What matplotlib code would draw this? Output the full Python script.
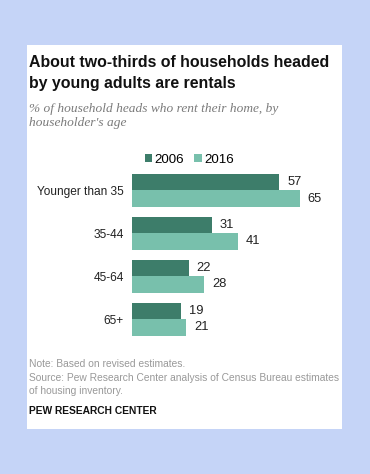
import numpy as np
import matplotlib.pyplot as plt
from matplotlib.patches import Rectangle

# data
categories = ['Younger than 35', '35-44', '45-64', '65+']
vals_2006 = [57, 31, 22, 19]
vals_2016 = [65, 41, 28, 21]
years = ['2006', '2016']

W, H = 370, 474
fig = plt.figure(figsize=(W / 100, H / 100), dpi=100)
fig.patch.set_facecolor('#c5d4f7')

def px(x, y):
    # pixel (from top-left) to figure fraction
    return x / W, 1 - y / H

# white panel
fig.patches.append(Rectangle((27 / W, 1 - 429 / H), (342 - 27) / W, (429 - 45) / H,
                             transform=fig.transFigure, facecolor='white',
                             edgecolor='none', zorder=-1))

dark = '#3d7d6a'
light = '#78c0ac'

# title + subtitle
fig.text(*px(29, 73), 'About two-thirds of households headed\nby young adults are rentals',
         fontsize=11.4, fontweight='bold', family='Liberation Sans', color='#111111',
         va='center', ha='left', linespacing=1.5)
fig.text(*px(29, 116), "% of household heads who rent their home, by\nhouseholder's age",
         fontsize=9.6, style='italic', family='Liberation Serif', color='#7a7a7a',
         va='center', ha='left', linespacing=1.3)

# bars
ax_l, ax_r = 132, 332
ax_t, ax_b = 174.3, 335.7
ax = fig.add_axes([ax_l / W, 1 - ax_b / H, (ax_r - ax_l) / W, (ax_b - ax_t) / H])
ax.set_zorder(2)
ax.set_facecolor('none')
bh = 16.5 / 43
y = np.arange(len(categories))
ax.barh(y - bh / 2, vals_2006, height=bh, color=dark, label=years[0])
ax.barh(y + bh / 2, vals_2016, height=bh, color=light, label=years[1])
ax.set_xlim(0, 200 / 2.585)
ax.set_ylim(3 + 16.7 / 43, -16 / 43)
for i in range(len(categories)):
    ax.text(vals_2006[i] + 3.0, y[i] - bh / 2, str(vals_2006[i]), va='center', ha='left',
            fontsize=9.3, family='Liberation Sans', color='#222222')
    ax.text(vals_2016[i] + 3.0, y[i] + bh / 2, str(vals_2016[i]), va='center', ha='left',
            fontsize=9.3, family='Liberation Sans', color='#222222')
ax.set_yticks(y)
ax.set_yticklabels(categories, fontsize=8.6, family='Liberation Sans', color='#222222')
ax.tick_params(axis='y', length=0, pad=6)
ax.set_xticks([])
for s in ax.spines.values():
    s.set_visible(False)

# legend
leg = ax.legend(loc='lower left', bbox_to_anchor=(0.02, 1.0), ncol=2, frameon=False,
                handlelength=0.55, handleheight=0.55, handletextpad=0.2, columnspacing=0.75,
                prop={'family': 'Liberation Sans', 'size': 9.6}, borderaxespad=0.25)

# notes
fig.text(*px(29, 364), 'Note: Based on revised estimates.', fontsize=7.4,
         family='Liberation Sans', color='#999999', va='center', ha='left')
fig.text(*px(29, 384.5), 'Source: Pew Research Center analysis of Census Bureau estimates\nof housing inventory.',
         fontsize=7.4, family='Liberation Sans', color='#999999', va='center', ha='left',
         linespacing=1.35)
fig.text(*px(29, 411), 'PEW RESEARCH CENTER', fontsize=7.4, fontweight='bold',
         family='Liberation Sans', color='#111111', va='center', ha='left')

fig.savefig('out.png', dpi=100, facecolor=fig.get_facecolor())
